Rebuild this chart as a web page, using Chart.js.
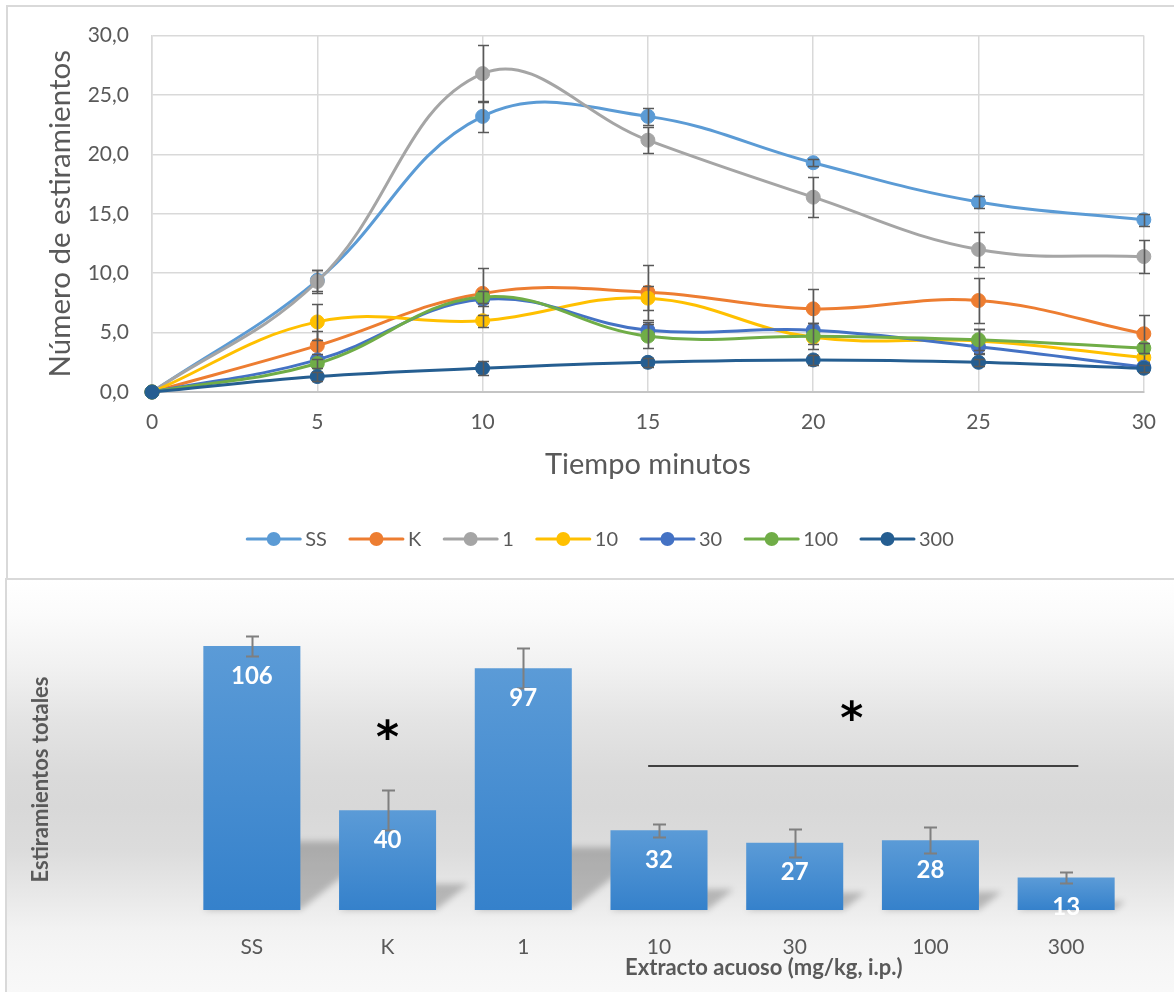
<!DOCTYPE html>
<html lang="es">
<head>
<meta charset="utf-8">
<title>Estiramientos</title>
<script src="https://cdn.jsdelivr.net/npm/chart.js@4.4.1/dist/chart.umd.min.js"></script>
<style>
  html, body { margin: 0; padding: 0; background: #ffffff; width: 1174px; height: 992px; overflow: hidden; }
  .panel { position: absolute; box-sizing: border-box; border: 2px solid #d9d9d9; }
  #panelTop { left: 6px; top: 5px; width: 1220px; height: 575px; }
  #panelBottom {
    left: 5px; top: 578px; width: 1220px; height: 440px;
    background: linear-gradient(to bottom,
      #ffffff 0%, #fbfbfb 8%, #f1f1f1 20%, #e4e4e4 32%, #dadada 45%, #d8d8d8 52%,
      #dcdcdc 62%, #e8e8e8 72%, #f2f2f2 80%, #f6f6f6 88%, #fafafa 100%);
  }
  canvas { position: absolute; left: 0; }
  #timeChart { top: 0; }
  #totalChart { top: 580px; }
</style>
</head>
<body>
<div class="panel" id="panelTop"></div>
<div class="panel" id="panelBottom"></div>
<canvas id="timeChart" width="1174" height="578"></canvas>
<canvas id="totalChart" width="1174" height="412"></canvas>
<script>
// ---- time course (minutes after injection) ----
const minutes = [0, 5, 10, 15, 20, 25, 30];
const yTicks = [0, 5, 10, 15, 20, 25, 30];

const serieSS  = [0, 9.4, 23.2, 23.2, 19.3, 16.0, 14.5];
const serieK   = [0, 3.9, 8.3, 8.4, 7.0, 7.7, 4.9];
const serie1   = [0, 9.3, 26.8, 21.2, 16.4, 12.0, 11.4];
const serie10  = [0, 5.9, 6.0, 7.9, 4.6, 4.3, 2.9];
const serie30  = [0, 2.7, 7.8, 5.2, 5.2, 3.8, 2.1];
const serie100 = [0, 2.4, 8.0, 4.7, 4.7, 4.4, 3.7];
const serie300 = [0, 1.3, 2.0, 2.5, 2.7, 2.5, 2.0];

const errSS  = [0, 0.9, 1.3, 0.7, 0.3, 0.5, 0.5];
const errK   = [0, 1.2, 2.1, 2.3, 1.7, 1.9, 1.6];
const err1   = [0, 1.0, 2.4, 1.1, 1.7, 1.5, 1.4];
const err10  = [0, 1.5, 0.5, 1.0, 0.6, 1.0, 0.4];
const err30  = [0, 0.5, 0.6, 0.7, 0.6, 0.6, 0.3];
const err100 = [0, 0.4, 0.5, 1.0, 1.1, 0.9, 0.4];
const err300 = [0, 0.4, 0.6, 0.4, 0.4, 0.3, 0.3];

// ---- total stretches per group ----
const groups = ['SS', 'K', '1', '10', '30', '100', '300'];
const totals = [106, 40, 97, 32, 27, 28, 13];
const totalErrors = [4, 8, 8, 2.6, 5.6, 5.2, 2.3];

const TEXT = '#595959';
const LATO = 'Lato, "Open Sans", sans-serif';

// vertical error bars, drawn right after each dataset
const errorBars = {
  id: 'errorBars',
  afterDatasetDraw(chart, args, opts) {
    const ds = chart.data.datasets[args.index];
    if (!ds.errors) return;
    const yScale = chart.scales.y;
    const ctx = chart.ctx;
    ctx.save();
    ctx.strokeStyle = opts.color;
    ctx.lineWidth = opts.width;
    args.meta.data.forEach((el, i) => {
      const e = ds.errors[i];
      if (!e) return;
      const raw = ds.data[i];
      const v = typeof raw === 'object' ? raw.y : raw;
      const top = Math.round(yScale.getPixelForValue(v + e)) + 0.5;
      const bot = Math.round(yScale.getPixelForValue(v - e)) + 0.5;
      const x = Math.round(el.x) + 0.5;
      const c = opts.cap / 2;
      ctx.beginPath();
      ctx.moveTo(x, top); ctx.lineTo(x, bot);
      ctx.moveTo(x - c, top); ctx.lineTo(x + c, top);
      ctx.moveTo(x - c, bot); ctx.lineTo(x + c, bot);
      ctx.stroke();
    });
    ctx.restore();
  }
};

// legend row: line + round marker + label, centred under the plot
const seriesKey = {
  id: 'seriesKey',
  afterDraw(chart, args, opts) {
    const ctx = chart.ctx;
    ctx.save();
    ctx.font = opts.font;
    const items = chart.data.datasets.map(ds => ({
      label: ds.label, color: ds.borderColor, w: ctx.measureText(ds.label).width
    }));
    const total = items.reduce((s, it) => s + opts.lineLen + opts.textGap + it.w, 0)
      + opts.itemGap * (items.length - 1);
    let x = opts.centerX - total / 2;
    const y = opts.y;
    items.forEach(it => {
      ctx.strokeStyle = it.color;
      ctx.lineWidth = 3;
      ctx.lineCap = 'round';
      ctx.beginPath();
      ctx.moveTo(x + 1, y); ctx.lineTo(x + opts.lineLen - 1, y);
      ctx.stroke();
      ctx.fillStyle = it.color;
      ctx.beginPath();
      ctx.arc(x + opts.lineLen / 2, y, opts.radius, 0, Math.PI * 2);
      ctx.fill();
      x += opts.lineLen + opts.textGap;
      ctx.fillStyle = opts.color;
      ctx.textBaseline = 'middle';
      ctx.textAlign = 'left';
      ctx.fillText(it.label, x, y + 1);
      x += it.w + opts.itemGap;
    });
    ctx.restore();
  }
};

function series(label, values, errors, color, order) {
  return {
    label,
    data: minutes.map((m, i) => ({ x: m, y: values[i] })),
    errors,
    borderColor: color,
    backgroundColor: color,
    pointBackgroundColor: color,
    pointBorderColor: color,
    pointBorderWidth: 1,
    pointRadius: 7,
    borderWidth: 3,
    tension: 0.4,
    clip: false,
    order
  };
}

new Chart(document.getElementById('timeChart'), {
  type: 'line',
  data: {
    datasets: [
      series('SS', serieSS, errSS, '#5B9BD5', 6),
      series('K', serieK, errK, '#ED7D31', 5),
      series('1', serie1, err1, '#A5A5A5', 4),
      series('10', serie10, err10, '#FFC000', 3),
      series('30', serie30, err30, '#4472C4', 2),
      series('100', serie100, err100, '#70AD47', 1),
      series('300', serie300, err300, '#255E91', 0)
    ]
  },
  options: {
    responsive: false,
    animation: false,
    layout: { padding: { left: 0, top: 35, right: 30, bottom: 0 } },
    plugins: {
      legend: { display: false },
      tooltip: { enabled: false },
      errorBars: { color: '#595959', width: 1.6, cap: 11 },
      seriesKey: {
        font: '20px ' + LATO, color: TEXT, y: 539, centerX: 600,
        lineLen: 55, textGap: 4, itemGap: 22, radius: 7
      }
    },
    scales: {
      x: {
        type: 'linear', min: 0, max: 30,
        afterBuildTicks(scale) { scale.ticks = minutes.map(v => ({ value: v })); },
        afterFit(scale) { scale.height = 186; },
        ticks: { font: { family: LATO, size: 21 }, color: TEXT, padding: 18 },
        grid: { color: '#D9D9D9', lineWidth: 1.5, drawTicks: false },
        border: { color: '#C4C4C4', width: 2 },
        title: {
          display: true, text: 'Tiempo minutos', color: TEXT,
          font: { family: LATO, size: 29 }, padding: { top: 0, bottom: 96 }
        }
      },
      y: {
        min: 0, max: 30,
        afterBuildTicks(scale) { scale.ticks = yTicks.map(v => ({ value: v })); },
        afterFit(scale) { scale.width = 152; },
        ticks: {
          font: { family: LATO, size: 21 }, color: TEXT, padding: 23,
          callback: v => v.toFixed(1).replace('.', ',')
        },
        grid: { color: '#D9D9D9', lineWidth: 1.5, drawTicks: false },
        border: { color: '#D9D9D9', width: 1.5 },
        title: {
          display: true, text: 'Número de estiramientos', color: TEXT,
          font: { family: LATO, size: 29.5 }, padding: { top: 43, bottom: 0 }
        }
      }
    }
  },
  plugins: [errorBars, seriesKey]
});

// ---- bar chart helpers ----
const barShadow = {
  id: 'barShadow',
  beforeDatasetsDraw(chart, args, opts) {
    const ctx = chart.ctx;
    chart.getDatasetMeta(0).data.forEach(bar => {
      const { x, y, base, width } = bar.getProps(['x', 'y', 'base', 'width'], true);
      const sh = (base - y) * opts.squash;
      const shift = sh * opts.slant;
      const l = x - width / 2, r = x + width / 2;
      const g = ctx.createLinearGradient(0, base - sh, 0, base);
      g.addColorStop(0, opts.topColor);
      g.addColorStop(1, opts.bottomColor);
      ctx.save();
      ctx.filter = 'blur(' + opts.blur + 'px)';
      ctx.fillStyle = g;
      ctx.beginPath();
      ctx.moveTo(l, base);
      ctx.lineTo(r, base);
      ctx.lineTo(r + shift, base - sh);
      ctx.lineTo(l + shift, base - sh);
      ctx.closePath();
      ctx.fill();
      ctx.restore();
    });
  }
};

const barValues = {
  id: 'barValues',
  afterDatasetsDraw(chart, args, opts) {
    const ctx = chart.ctx;
    const ds = chart.data.datasets[0];
    ctx.save();
    ctx.font = opts.font;
    ctx.fillStyle = opts.color;
    ctx.textAlign = 'center';
    ctx.textBaseline = 'middle';
    chart.getDatasetMeta(0).data.forEach((bar, i) => {
      ctx.fillText(String(ds.data[i]), bar.x, bar.y + opts.offset);
    });
    ctx.restore();
  }
};

const significance = {
  id: 'significance',
  afterDraw(chart, args, opts) {
    const ctx = chart.ctx;
    const xs = chart.scales.x, ys = chart.scales.y;
    ctx.save();
    // bracket line over the extract doses
    ctx.strokeStyle = opts.lineColor;
    ctx.lineWidth = 2;
    const ly = Math.round(ys.getPixelForValue(opts.line.value));
    ctx.beginPath();
    ctx.moveTo(xs.getPixelForValue(opts.line.from), ly);
    ctx.lineTo(xs.getPixelForValue(opts.line.to), ly);
    ctx.stroke();
    // asterisks
    ctx.font = opts.starFont;
    ctx.fillStyle = '#000000';
    ctx.textAlign = 'center';
    ctx.textBaseline = 'alphabetic';
    const m = ctx.measureText('*');
    const dy = (m.actualBoundingBoxAscent - m.actualBoundingBoxDescent) / 2;
    opts.stars.forEach(s => {
      ctx.fillText('*', xs.getPixelForValue(s.at), ys.getPixelForValue(s.value) + dy);
    });
    // axis captions
    const area = chart.chartArea;
    ctx.fillStyle = TEXT;
    ctx.font = opts.captionFont;
    ctx.textBaseline = 'middle';
    ctx.textAlign = 'left';
    ctx.fillText('Extracto acuoso (mg/kg, i.p.)', xs.getPixelForValue(opts.xCaptionAt), area.bottom + 58);
    ctx.translate(41, (area.top + area.bottom) / 2 + 19);
    ctx.rotate(-Math.PI / 2);
    ctx.textAlign = 'center';
    ctx.fillText('Estiramientos totales', 0, 0);
    ctx.restore();
  }
};

new Chart(document.getElementById('totalChart'), {
  type: 'bar',
  data: {
    labels: groups,
    datasets: [{
      label: 'Estiramientos totales',
      data: totals,
      errors: totalErrors,
      barPercentage: 0.715,
      categoryPercentage: 1,
      backgroundColor(c) {
        const chart = c.chart;
        const ys = chart.scales.y;
        if (!ys || c.parsed == null) return '#4A8FD2';
        const top = ys.getPixelForValue(c.parsed.y);
        const base = ys.getPixelForValue(0);
        if (!isFinite(top) || !isFinite(base) || top === base) return '#4A8FD2';
        const g = chart.ctx.createLinearGradient(0, top, 0, base);
        g.addColorStop(0, '#5B9BD7');
        g.addColorStop(1, '#3581CB');
        return g;
      }
    }]
  },
  options: {
    responsive: false,
    animation: false,
    layout: { padding: { left: 184, top: 31, right: 40, bottom: 0 } },
    plugins: {
      legend: { display: false },
      tooltip: { enabled: false },
      barShadow: { squash: 0.26, slant: 1.25, blur: 3, topColor: 'rgba(0,0,0,0.22)', bottomColor: 'rgba(0,0,0,0.22)' },
      errorBars: { color: '#7F7F7F', width: 2, cap: 13 },
      barValues: { font: 'bold 24px ' + LATO, color: '#ffffff', offset: 30 },
      significance: {
        lineColor: '#404040',
        line: { from: 2.92, to: 6.09, value: 57.8 },
        stars: [{ at: 1, value: 72.5 }, { at: 4.42, value: 80 }],
        starFont: 'bold 44px "DejaVu Sans", sans-serif',
        captionFont: 'bold 22px ' + LATO,
        xCaptionAt: 2.75
      }
    },
    scales: {
      x: {
        afterFit(scale) { scale.height = 82; },
        ticks: { font: { family: LATO, size: 21 }, color: TEXT, padding: 17 },
        grid: { display: false },
        border: { display: false }
      },
      y: {
        display: false,
        min: 0, max: 120
      }
    }
  },
  plugins: [barShadow, errorBars, barValues, significance]
});
</script>
</body>
</html>
